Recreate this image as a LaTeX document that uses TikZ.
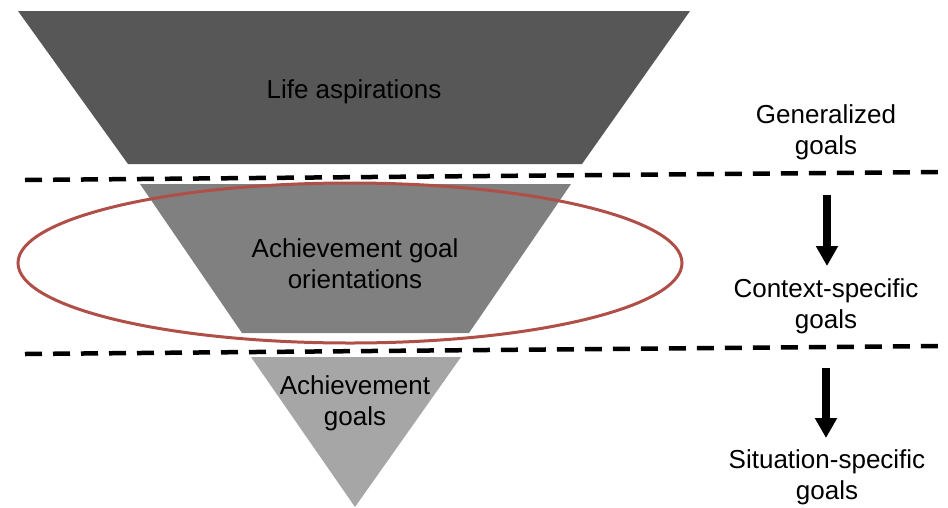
\documentclass[tikz,border=0pt]{standalone}
\usepackage{fontspec}
\setmainfont{Liberation Sans}
\usetikzlibrary{arrows.meta}
\definecolor{darkband}{RGB}{87,87,87}
\definecolor{midband}{RGB}{128,128,128}
\definecolor{lightband}{RGB}{166,166,166}
\definecolor{ringred}{RGB}{176,78,72}
\tikzset{
  lbl/.style={align=center, inner sep=0pt, font=\fontsize{26}{31}\selectfont, text=black},
  divider/.style={line width=4.5pt, dash pattern=on 17pt off 11pt},
  downarrow/.style={line width=7.5pt, -{Triangle[width=21pt,length=20pt]}}
}
\begin{document}
\begin{tikzpicture}[x=1pt,y=-1pt]
\useasboundingbox (0,0) rectangle (948,507);
% funnel bands
\fill[darkband] (18,11) -- (690,11) -- (582,164) -- (128,164) -- cycle;
\fill[midband] (140,184) -- (571,184) -- (469,333) -- (242,333) -- cycle;
\fill[lightband] (251,357) -- (461,357) -- (355,507) -- cycle;
% dividers
\coordinate (d1l) at (25,180);
\coordinate (d1r) at (948,172);
\coordinate (d2l) at (25,354);
\coordinate (d2r) at (948,346);
\draw[divider] (d1l) -- (d1r);
\draw[divider] (d2l) -- (d2r);
% ellipse
\draw[ringred, line width=3pt] (350,263) ellipse [x radius=332, y radius=80];
% labels
\node[lbl] (life) at (354,92) {Life aspirations};
\node[lbl] (ago) at (355,264) {Achievement goal\\orientations};
\node[lbl] (ag) at (355,403) {Achievement\\goals};
\node[lbl] (gen) at (826,132) {Generalized\\goals};
\node[lbl] (ctx) at (826,306) {Context-specific\\goals};
\node[lbl] (sit) at (827,477) {Situation-specific\\goals};
% arrows
\coordinate (a1s) at (827,195);
\coordinate (a1e) at (827,266);
\coordinate (a2s) at (826,368);
\coordinate (a2e) at (826,438);
\draw[downarrow] (a1s) -- (a1e);
\draw[downarrow] (a2s) -- (a2e);
\end{tikzpicture}
\end{document}
